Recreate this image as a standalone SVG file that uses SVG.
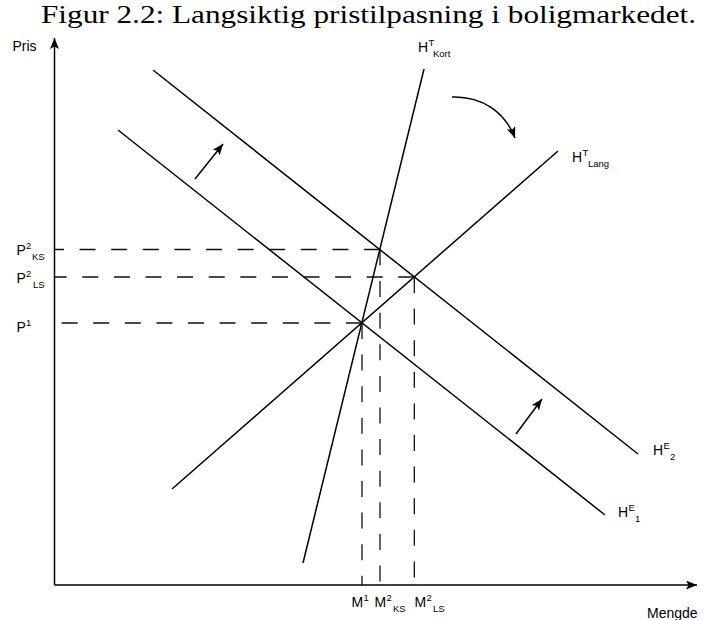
<svg xmlns="http://www.w3.org/2000/svg" width="704" height="620" viewBox="0 0 704 620">
  <style>
    .ln { stroke: #000; stroke-width: 1.5; fill: none; }
    .ax { stroke: #000; stroke-width: 1.5; fill: none; }
    .dash { stroke: #111; stroke-width: 1.3; fill: none; stroke-dasharray: 16 15.6; }
    .lbl { font-family: "Liberation Sans", Arial, sans-serif; font-size: 14px; fill: #000; }
    .sm { font-size: 9.5px; }
    .title { font-family: "Liberation Serif", "Times New Roman", serif; font-size: 26px; fill: #000; }
  </style>
  <defs>
    <marker id="ah" markerUnits="userSpaceOnUse" markerWidth="12" markerHeight="10" refX="11" refY="4.5" orient="auto">
      <path d="M0,0 L11,4.5 L0,9 L2.5,4.5 Z" fill="#000"/>
    </marker>
  </defs>
  <rect width="704" height="620" fill="#fff"/>

  <text class="title" x="41" y="23" textLength="655" lengthAdjust="spacingAndGlyphs">Figur 2.2: Langsiktig pristilpasning i boligmarkedet.</text>

  <g id="axes">
    <path class="ax" d="M54.5,585 L54.5,38" marker-end="url(#ah)"/>
    <path class="ax" d="M54.5,585 L697,585" marker-end="url(#ah)"/>
    <text class="lbl" x="12.5" y="51">Pris</text>
    <text class="lbl" x="647" y="618">Mengde</text>
  </g>

  <g id="connectors">
    <path class="dash" d="M380,249.5 L54.5,249.5"/>
    <path class="dash" d="M380,249.5 L380,585"/>
    <path class="dash" d="M414.3,277 L54.5,277"/>
    <path class="dash" d="M414.3,277 L414.3,585"/>
    <path class="dash" d="M362,323 L54.5,323"/>
    <path class="dash" d="M362,323 L362,585"/>
    <path class="ln" d="M195,179 L223,144" marker-end="url(#ah)"/>
    <path class="ln" d="M516,434 L542,399" marker-end="url(#ah)"/>
    <path class="ln" d="M452,97 C482,96 505,112 515,138" marker-end="url(#ah)"/>
  </g>

  <g id="HT-Kort">
    <line class="ln" x1="303" y1="563" x2="424" y2="69"/>
    <text class="lbl" x="418" y="52">H<tspan class="sm" x="428.5" y="46">T</tspan><tspan class="sm" x="433" y="57">Kort</tspan></text>
  </g>

  <g id="HT-Lang">
    <line class="ln" x1="172" y1="489" x2="558" y2="151"/>
    <text class="lbl" x="572" y="162">H<tspan class="sm" x="582.5" y="156">T</tspan><tspan class="sm" x="588" y="167">Lang</tspan></text>
  </g>

  <g id="HE-2">
    <line class="ln" x1="153" y1="70" x2="638" y2="454"/>
    <text class="lbl" x="653" y="455">H<tspan class="sm" x="663.5" y="449">E</tspan><tspan class="sm" x="670" y="460">2</tspan></text>
  </g>

  <g id="HE-1">
    <line class="ln" x1="118" y1="130" x2="605" y2="515"/>
    <text class="lbl" x="618" y="517">H<tspan class="sm" x="628.5" y="511">E</tspan><tspan class="sm" x="635" y="522">1</tspan></text>
  </g>

  <g id="P-labels">
    <text class="lbl" x="16.5" y="255">P<tspan class="sm" x="26" y="249">2</tspan><tspan class="sm" x="32" y="260">KS</tspan></text>
    <text class="lbl" x="16.5" y="283">P<tspan class="sm" x="26" y="277">2</tspan><tspan class="sm" x="33" y="288">LS</tspan></text>
    <text class="lbl" x="16.5" y="332">P<tspan class="sm" x="26" y="326">1</tspan></text>
  </g>

  <g id="M-labels">
    <text class="lbl" x="351.5" y="607">M<tspan class="sm" x="363.5" y="601">1</tspan></text>
    <text class="lbl" x="374.5" y="607">M<tspan class="sm" x="386.5" y="601">2</tspan><tspan class="sm" x="393" y="612">KS</tspan></text>
    <text class="lbl" x="414.5" y="607">M<tspan class="sm" x="426.5" y="601">2</tspan><tspan class="sm" x="433" y="612">LS</tspan></text>
  </g>
</svg>
